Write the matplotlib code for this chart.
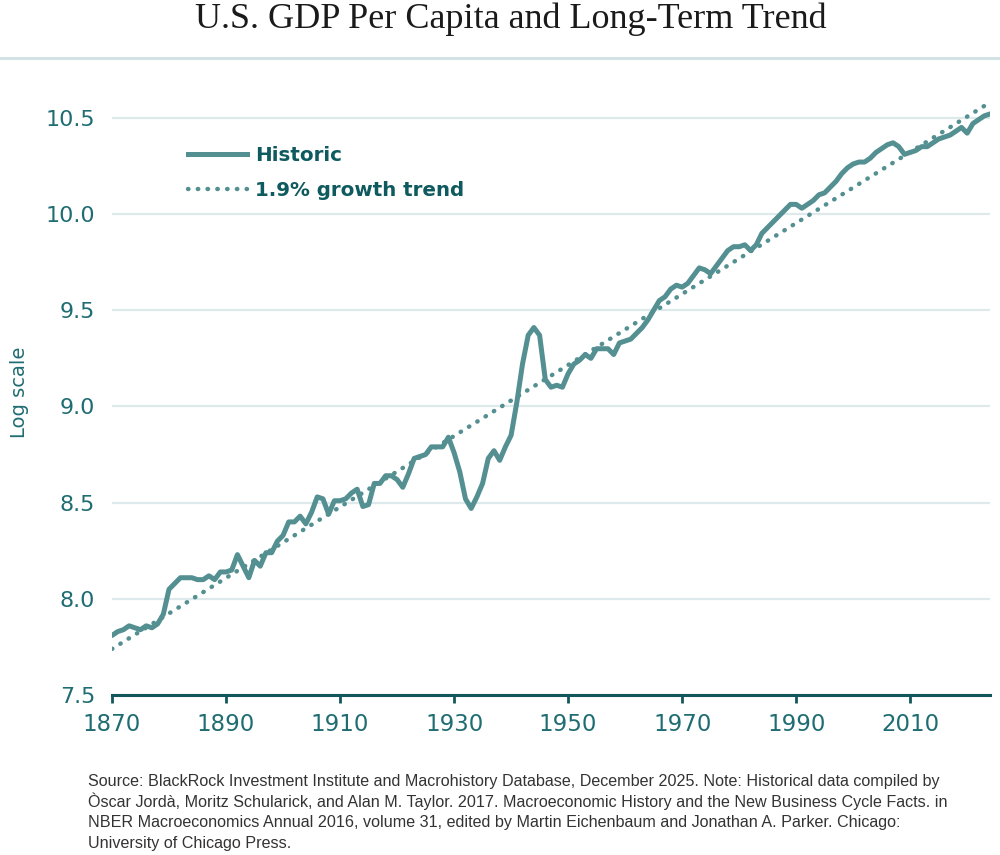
import numpy as np
import matplotlib.pyplot as plt
from matplotlib.lines import Line2D

# Данные: логарифм ВВП на душу населения США
years = np.arange(1870, 2025)
historic = [
    7.81, 7.83, 7.84, 7.86, 7.85, 7.84, 7.86, 7.85, 7.87, 7.92,   # 1870-1879
    8.05, 8.08, 8.11, 8.11, 8.11, 8.10, 8.10, 8.12, 8.10, 8.14,   # 1880-1889
    8.14, 8.15, 8.23, 8.17, 8.11, 8.20, 8.17, 8.24, 8.24, 8.30,   # 1890-1899
    8.33, 8.40, 8.40, 8.43, 8.39, 8.45, 8.53, 8.52, 8.44, 8.51,   # 1900-1909
    8.51, 8.52, 8.55, 8.57, 8.48, 8.49, 8.60, 8.60, 8.64, 8.64,   # 1910-1919
    8.62, 8.58, 8.65, 8.73, 8.74, 8.75, 8.79, 8.79, 8.79, 8.84,   # 1920-1929
    8.76, 8.66, 8.52, 8.47, 8.53, 8.60, 8.73, 8.77, 8.72, 8.79,   # 1930-1939
    8.85, 9.02, 9.22, 9.37, 9.41, 9.37, 9.14, 9.10, 9.11, 9.10,   # 1940-1949
    9.17, 9.22, 9.24, 9.27, 9.25, 9.30, 9.30, 9.30, 9.27, 9.33,   # 1950-1959
    9.34, 9.35, 9.38, 9.41, 9.45, 9.50, 9.55, 9.57, 9.61, 9.63,   # 1960-1969
    9.62, 9.64, 9.68, 9.72, 9.71, 9.69, 9.73, 9.77, 9.81, 9.83,   # 1970-1979
    9.83, 9.84, 9.81, 9.84, 9.90, 9.93, 9.96, 9.99, 10.02, 10.05,  # 1980-1989
    10.05, 10.03, 10.05, 10.07, 10.10, 10.11, 10.14, 10.17, 10.21, 10.24,  # 1990-1999
    10.26, 10.27, 10.27, 10.29, 10.32, 10.34, 10.36, 10.37, 10.35, 10.31,  # 2000-2009
    10.32, 10.33, 10.35, 10.35, 10.37, 10.39, 10.40, 10.41, 10.43, 10.45,  # 2010-2019
    10.42, 10.47, 10.49, 10.51, 10.52,                                  # 2020-2024
]

# Линия тренда 1.9% (концы прямой)
trend_years = [1870, 2024]
trend_values = [7.74, 10.58]

x_ticks = [1870, 1890, 1910, 1930, 1950, 1970, 1990, 2010]
y_ticks = [7.5, 8.0, 8.5, 9.0, 9.5, 10.0, 10.5]

note_lines = [
    'Source: BlackRock Investment Institute and Macrohistory Database, December 2025. Note: Historical data compiled by',
    'Òscar Jordà, Moritz Schularick, and Alan M. Taylor. 2017. Macroeconomic History and the New Business Cycle Facts. in',
    'NBER Macroeconomics Annual 2016, volume 31, edited by Martin Eichenbaum and Jonathan A. Parker. Chicago:',
    'University of Chicago Press.',
]

line_color = '#548f91'
text_teal = '#1f6d72'
legend_teal = '#0f5a5f'
grid_color = '#dde9ea'
dots = (0, (0.1, 2.1))

fig = plt.figure(figsize=(10, 8.55), dpi=100)
ax = fig.add_axes([0.112, 0.187, 0.878, 0.709])

ax.plot(trend_years, trend_values, color=line_color, linestyle=dots,
        linewidth=3.2, dash_capstyle='round', zorder=2)
ax.plot(years, historic, color=line_color, linewidth=3.6, solid_capstyle='round',
        solid_joinstyle='round', zorder=3)

ax.set_xlim(1870, 2024)
ax.set_ylim(7.5, 10.65)
ax.set_xticks(x_ticks)
ax.set_yticks(y_ticks)
ax.set_yticklabels([f'{v:.1f}' for v in y_ticks])
ax.grid(axis='y', color=grid_color, linewidth=1.6)
ax.set_axisbelow(True)

for side in ['top', 'right', 'left']:
    ax.spines[side].set_visible(False)
ax.spines['bottom'].set_color('#13565b')
ax.spines['bottom'].set_linewidth(2.2)

ax.tick_params(axis='x', colors='#13565b', length=6, width=2, labelsize=16.5,
               labelcolor=text_teal, pad=7)
ax.tick_params(axis='y', length=0, labelsize=16, labelcolor=text_teal, pad=12)

ax.set_ylabel('Log scale', color=text_teal, fontsize=14)
ax.yaxis.set_label_coords(-0.094, 0.5)

handles = [
    Line2D([], [], color=line_color, linewidth=3.6),
    Line2D([], [], color=line_color, linestyle=dots, linewidth=3.2,
           dash_capstyle='round'),
]
ax.legend(handles, ['Historic', '1.9% growth trend'], loc='upper left',
          bbox_to_anchor=(0.066, 0.935), frameon=False, handlelength=3.0,
          handletextpad=0.4, labelspacing=0.8,
          prop={'weight': 'bold', 'size': 14.3}, labelcolor=legend_teal)

# Заголовок и разделитель
fig.text(0.511, 0.977, 'U.S. GDP Per Capita and Long-Term Trend', ha='center', va='center',
         fontsize=26, family='Liberation Serif', color='#1a1a1a')
fig.add_artist(Line2D([0, 1], [0.932, 0.932], color='#d3e2e5', linewidth=2.2))

# Сноска: по строке, с одинаковым шагом
for i, line in enumerate(note_lines):
    fig.text(0.088, 1 - (786 + 20.5 * i) / 855, line, ha='left', va='baseline',
             fontsize=11.6, family='Liberation Sans', color='#333333')

fig.savefig('out.png', dpi=100)
